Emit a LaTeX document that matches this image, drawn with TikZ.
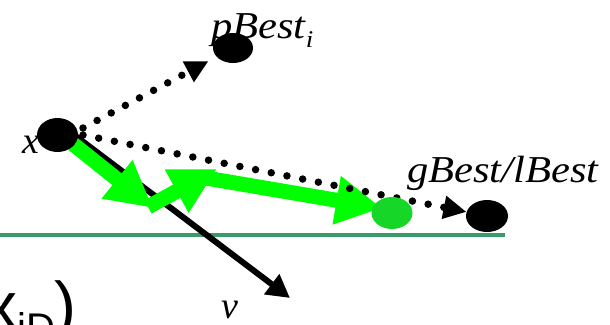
\documentclass[tikz,border=0pt]{standalone}
\usepackage{fontspec}
\setmainfont{Liberation Serif}
\newfontfamily\sansf{Liberation Sans}
\usetikzlibrary{arrows.meta,shapes.geometric}
\definecolor{arrgreen}{RGB}{0,255,0}
\definecolor{ellgreen}{RGB}{22,214,40}
\definecolor{linegreen}{RGB}{58,154,106}
\pgfdeclarelayer{bg}
\pgfsetlayers{bg,main}
\begin{document}
\begin{tikzpicture}[x=1pt,y=-1pt,
  lbl/.style={inner sep=0pt, anchor=base west, font=\fontsize{38}{40}\selectfont\itshape},
  blob/.style={ellipse, fill=black, inner sep=0pt},
  dots/.style={line width=7.5pt, line cap=round, dash pattern=on 0pt off 16pt,
    -{Triangle[length=23pt,width=22pt]}},
  garrow/.style={draw=arrgreen, line width=15pt, -{Triangle[length=46pt,width=46pt]}},
  varrow/.style={line width=6pt, -{Triangle[length=23pt,width=24pt]}},
  gline/.style={draw=linegreen, line width=4pt}]
\useasboundingbox (0,0) rectangle (610,324);
\clip (0,0) rectangle (610,324);
% points
\coordinate (ls) at (0,235);
\coordinate (le) at (505,235);
\coordinate (vs) at (65,128);
\coordinate (vt) at (290,298);
\coordinate (a0) at (73,144);
\coordinate (a1) at (153,208);
\coordinate (b0) at (148,207);
\coordinate (b1) at (217,169);
\coordinate (c0) at (200,177);
\coordinate (c1) at (382,208);
\coordinate (xd1) at (83,128);
\coordinate (xd2) at (83,135);
% ellipses
\node[blob, minimum width=41pt, minimum height=34pt] (x) at (57.5,135) {};
\node[blob, minimum width=40pt, minimum height=30pt] (p) at (233,48) {};
\node[blob, minimum width=42pt, minimum height=32pt] (g) at (487,216) {};
\node[ellipse, fill=ellgreen, inner sep=0pt, minimum width=41pt, minimum height=32pt] (ge) at (392,213) {};
% labels
\node[lbl] (lp) at (211,38) {\scalebox{1.12}[1]{pBest\raisebox{-9pt}{\fontsize{24}{24}\selectfont i}}};
\node[lbl] (lg) at (407,182) {\scalebox{1.12}[1]{gBest/lBest}};
\node[lbl] (lx) at (22,153) {x};
\node[lbl, text depth=0pt] (lv) at (221,318) {v};
\node[inner sep=0pt, anchor=base west, font=\sansf\fontsize{66}{66}\selectfont] (lc) at (-16,328)
  {x\raisebox{-13pt}{\fontsize{40}{40}\selectfont iD})};
\begin{pgfonlayer}{bg}
\draw[gline] (ls) -- (le);
\draw[varrow] (vs) -- (vt);
\draw[garrow] (a0) -- (a1);
\draw[garrow] (b0) -- (b1);
\draw[garrow] (c0) -- (c1);
\draw[dots, shorten >=9pt] (xd1) -- (p);
\draw[dots] (xd2) -- (g);
\end{pgfonlayer}
\end{tikzpicture}
\end{document}
